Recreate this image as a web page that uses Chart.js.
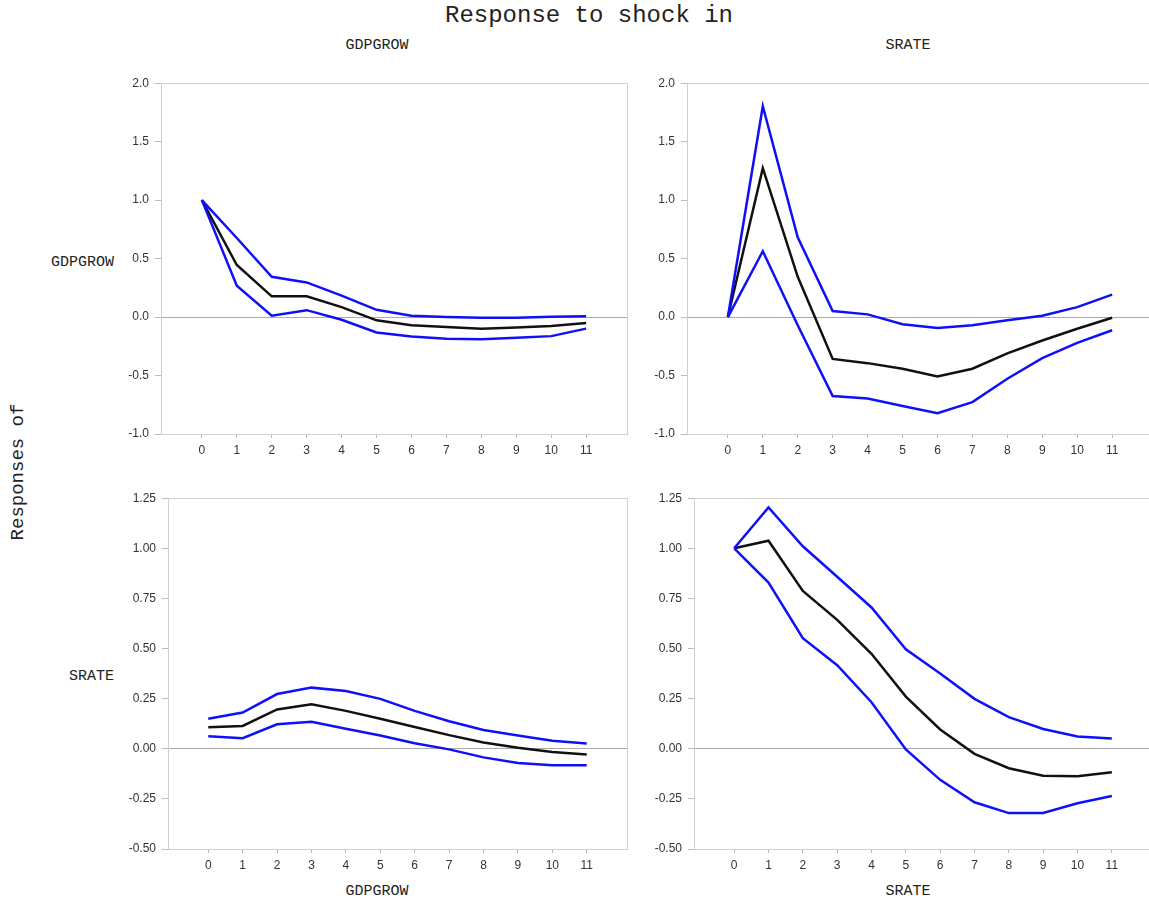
<!DOCTYPE html>
<html lang="en">
<head>
    <meta charset="UTF-8">
    <title>Response to shock in</title>
    <style>
        body {
            margin: 0;
            background: #fff;
            width: 1149px;
            height: 903px;
            overflow: hidden;
            position: relative;
            font-family: "Liberation Mono", "Courier New", monospace;
            color: #222;
        }
        .lbl {
            position: absolute;
            white-space: nowrap;
            transform: translate(-50%, -50%);
        }
        .right {
            transform: translate(-100%, -50%);
        }
        canvas {
            position: absolute;
        }
    </style>
    <script src="https://cdn.jsdelivr.net/npm/chart.js"></script>
</head>
<body>
    <div class="lbl" style="left:589px; top:15px; font-size:24px;">Response to shock in</div>
    <div class="lbl" style="left:377px; top:45px; font-size:15px;">GDPGROW</div>
    <div class="lbl" style="left:908px; top:45px; font-size:15px;">SRATE</div>
    <div class="lbl right" style="left:114px; top:262px; font-size:15px;">GDPGROW</div>
    <div class="lbl right" style="left:114px; top:676px; font-size:15px;">SRATE</div>
    <div class="lbl" style="left:18px; top:472px; font-size:19px; transform:translate(-50%,-50%) rotate(-90deg);">Responses of</div>
    <div class="lbl" style="left:377px; top:891px; font-size:15px;">GDPGROW</div>
    <div class="lbl" style="left:908px; top:891px; font-size:15px;">SRATE</div>

    <canvas id="c1"></canvas>
    <canvas id="c2"></canvas>
    <canvas id="c3"></canvas>
    <canvas id="c4"></canvas>

    <script>
        // horizon (periods after the shock)
        const periods = [0, 1, 2, 3, 4, 5, 6, 7, 8, 9, 10, 11];

        // GDPGROW response to GDPGROW shock
        const gdpOnGdp = [1.0, 0.445, 0.177, 0.177, 0.085, -0.028, -0.07, -0.085, -0.099, -0.09, -0.076, -0.05];
        const gdpOnGdpHi = [1.0, 0.676, 0.344, 0.296, 0.183, 0.062, 0.011, 0.0, -0.006, -0.006, 0.003, 0.006];
        const gdpOnGdpLo = [1.0, 0.268, 0.011, 0.059, -0.023, -0.132, -0.166, -0.186, -0.19, -0.177, -0.163, -0.099];

        // GDPGROW response to SRATE shock
        const gdpOnRate = [0.0, 1.273, 0.344, -0.358, -0.394, -0.442, -0.507, -0.442, -0.31, -0.2, -0.1, -0.006];
        const gdpOnRateHi = [0.0, 1.803, 0.682, 0.051, 0.023, -0.062, -0.093, -0.07, -0.028, 0.011, 0.085, 0.192];
        const gdpOnRateLo = [0.0, 0.563, -0.07, -0.676, -0.696, -0.76, -0.823, -0.727, -0.527, -0.352, -0.22, -0.113];

        // SRATE response to GDPGROW shock
        const rateOnGdp = [0.107, 0.114, 0.196, 0.222, 0.189, 0.15, 0.109, 0.068, 0.031, 0.005, -0.016, -0.028];
        const rateOnGdpHi = [0.15, 0.181, 0.273, 0.305, 0.288, 0.249, 0.189, 0.137, 0.094, 0.066, 0.04, 0.026];
        const rateOnGdpLo = [0.063, 0.053, 0.122, 0.135, 0.1, 0.066, 0.028, -0.003, -0.043, -0.071, -0.082, -0.082];

        // SRATE response to SRATE shock
        const rateOnRate = [1.0, 1.038, 0.787, 0.643, 0.474, 0.26, 0.096, -0.025, -0.097, -0.135, -0.137, -0.117];
        const rateOnRateHi = [1.0, 1.204, 1.01, 0.858, 0.705, 0.496, 0.376, 0.249, 0.158, 0.099, 0.061, 0.051];
        const rateOnRateLo = [1.0, 0.829, 0.552, 0.417, 0.232, -0.003, -0.155, -0.267, -0.321, -0.32, -0.272, -0.236];

        // y tick labels
        const topTicks = [-1.0, -0.5, 0.0, 0.5, 1.0, 1.5, 2.0];
        const bottomTicks = [-0.5, -0.25, 0.0, 0.25, 0.5, 0.75, 1.0, 1.25];

        const YW = 60, PT = 10, PR = 10, XH = 30;

        // outline around the plot area (top & right sides too)
        const frame = {
            id: 'frame',
            beforeDatasetsDraw(chart) {
                const a = chart.chartArea, ctx = chart.ctx;
                ctx.save();
                ctx.strokeStyle = '#cfcfcf';
                ctx.lineWidth = 1;
                ctx.strokeRect(Math.round(a.left) + 0.5, Math.round(a.top) + 0.5,
                    Math.round(a.right - a.left), Math.round(a.bottom - a.top));
                ctx.restore();
            }
        };

        function makePanel(id, box, mid, hi, lo, yTicks, decimals) {
            const cv = document.getElementById(id);
            const w = box.right - box.left + YW + PR;
            const h = box.bottom - box.top + PT + XH;
            cv.width = w;
            cv.height = h;
            cv.style.left = (box.left - YW) + 'px';
            cv.style.top = (box.top - PT) + 'px';

            const line = (data, color) => ({
                data: periods.map((p, i) => ({ x: p, y: data[i] })),
                borderColor: color,
                borderWidth: 2.5,
                pointRadius: 0,
                tension: 0,
                fill: false
            });

            new Chart(cv, {
                type: 'line',
                data: {
                    datasets: [
                        line(hi, '#1010f8'),
                        line(lo, '#1010f8'),
                        line(mid, '#111111')
                    ]
                },
                options: {
                    responsive: false,
                    animation: false,
                    layout: { padding: { top: PT, right: PR, left: 0, bottom: 0 } },
                    plugins: { legend: { display: false }, tooltip: { enabled: false } },
                    scales: {
                        x: {
                            type: 'linear',
                            min: -1.17,
                            max: 12.17,
                            afterBuildTicks: s => { s.ticks = periods.map(v => ({ value: v })); },
                            afterFit: s => { s.height = XH; },
                            grid: { drawOnChartArea: false, tickLength: 4, tickColor: '#bbb' },
                            border: { color: '#cfcfcf' },
                            ticks: {
                                padding: 5,
                                color: '#333',
                                font: { family: '"Liberation Sans", Arial, sans-serif', size: 12 },
                                maxRotation: 0,
                                callback: v => String(v)
                            }
                        },
                        y: {
                            min: yTicks[0],
                            max: yTicks[yTicks.length - 1],
                            afterBuildTicks: s => { s.ticks = yTicks.map(v => ({ value: v })); },
                            afterFit: s => { s.width = YW; },
                            grid: {
                                drawOnChartArea: true,
                                tickLength: 6,
                                tickColor: '#bbb',
                                color: c => (c.tick && c.tick.value === 0) ? '#aaaaaa' : 'rgba(0,0,0,0)'
                            },
                            border: { color: '#cfcfcf' },
                            ticks: {
                                padding: 6,
                                color: '#333',
                                font: { family: '"Liberation Sans", Arial, sans-serif', size: 12 },
                                callback: v => v.toFixed(decimals)
                            }
                        }
                    }
                },
                plugins: [frame]
            });
        }

        makePanel('c1', { left: 161, top: 80, right: 627, bottom: 434 }, gdpOnGdp, gdpOnGdpHi, gdpOnGdpLo, topTicks, 1);
        makePanel('c2', { left: 687, top: 80, right: 1153, bottom: 434 }, gdpOnRate, gdpOnRateHi, gdpOnRateLo, topTicks, 1);
        makePanel('c3', { left: 168, top: 495, right: 627, bottom: 849 }, rateOnGdp, rateOnGdpHi, rateOnGdpLo, bottomTicks, 2);
        makePanel('c4', { left: 694, top: 495, right: 1152, bottom: 849 }, rateOnRate, rateOnRateHi, rateOnRateLo, bottomTicks, 2);
    </script>
</body>
</html>
